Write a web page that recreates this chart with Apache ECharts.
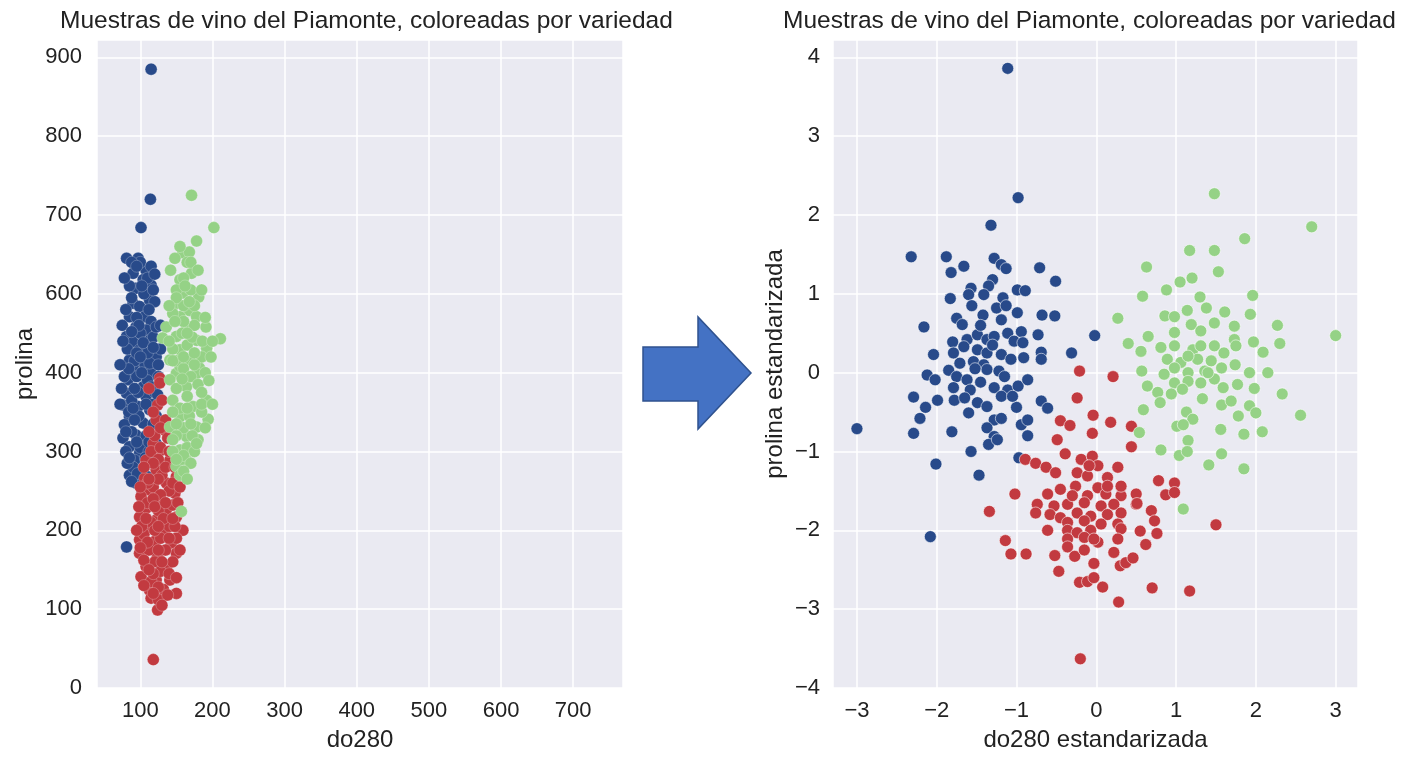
<!DOCTYPE html>
<html>
<head>
<meta charset="utf-8">
<script src="https://cdn.jsdelivr.net/npm/echarts@6/dist/echarts.min.js"></script>
<style>
html,body{margin:0;padding:0;background:#fff;}
#chart{width:1408px;height:768px;}
</style>
</head>
<body>
<div id="chart"></div>
<script>
// ---- tick labels ----
const leftYTickLabels = ['0','100','200','300','400','600','700','800','900'];

// ---- left panel: raw values [do280, prolina position] ----
const leftBlue = [
[115,785],[114,620],[101,584],
[81,545],[97,545],[108,530],[90,526],[104,518],[115,511],[94,507],[108,501],[90,488],[113,492],[99,484],[85,471],[106,471],[115,465],[94,458],[81,446],[108,454],[90,439],[113,441],[99,429],[122,420],[85,416],[106,410],[90,399],[115,399],
[90,408],[113,412],[83,391],[104,382],[81,374],[108,370],[76,359],[97,357],[113,353],[85,344],[104,336],[78,334],[115,327],[94,321],[76,317],[106,310],[85,306],[99,298],[92,289],[85,270],[94,260],[81,179],
[100,540],[110,520],[85,510],[120,490],[95,470],[75,460],[118,445],[100,450],[82,430],[110,425],[125,410],[95,395],[110,390],[120,375],[88,365],[98,345],[122,345],[108,320],[88,325],[100,305],[112,300],[80,300],[90,280],[105,280],[100,265],[118,360],[78,395],[128,430],[92,415],[105,500],[88,540],[115,535],[72,360],[115,290],[82,285],[97,375],
[78,520],[95,535],[120,525],[102,510],[88,495],[112,480],[80,480],[98,460],[122,458],[88,452],[104,438],[76,440],[118,432],[95,425],[84,405],[102,400],[125,395],[74,380],[92,380],[115,382],[84,350],[108,360],[118,335],[92,340],[80,325],[112,312],[95,312],[122,310],[85,292],[107,292],[96,272],[110,268],[88,262],[102,252],[124,372],[128,460],[118,505],[72,410],[100,420],[90,355]
];
const leftRed = [
[127,393],[127,387],[124,359],[122,340],[134,327],[118,310],[138,317],[129,302],[108,289],[141,289],[122,277],[150,268],[106,266],[136,260],[113,251],[101,243],[148,247],[127,239],[108,228],[136,226],[150,217],[99,217],[122,213],[159,200],[108,203],[131,198],[99,188],[120,186],[143,184],[150,171],[99,171],[124,167],[108,154],[136,152],[101,141],[122,137],[141,137],[113,124],[150,120],[131,116],[115,114],[124,99],[118,36],
[115,300],[125,290],[130,270],[118,255],[140,250],[110,235],[125,225],[145,232],[115,210],[138,208],[105,195],[128,190],[150,190],[112,175],[135,175],[120,160],[145,160],[105,162],[128,148],[115,135],[132,125],[140,205],[110,260],[128,245],[145,260],[120,200],[102,205],[118,145],[125,128],[135,280],[120,320],[128,305],[118,285],
[112,380],[130,365],[118,350],[135,340],[112,325],[140,300],[105,280],[148,280],[125,265],[100,255],[152,235],[118,240],[132,215],[108,215],[148,205],[125,205],[95,200],[110,185],[140,190],[155,175],[125,175],[100,178],[130,160],[112,150],[140,145],[150,140],[105,130],[125,112],[138,118],[118,120],[130,105],[145,215],[155,255],[98,230],[120,230],[135,235],[112,265],[128,330]
];
const leftGreen = [
[171,625],[202,584],[178,567],[159,552],[168,553],[142,530],[171,526],[155,518],[159,501],[181,496],[150,488],[168,479],[155,471],[178,471],[136,458],[191,458],[164,454],[131,444],[150,446],[178,441],[211,443],[192,431],[155,429],[141,416],[168,416],[182,406],[150,399],
[155,408],[178,399],[141,391],[164,382],[192,365],[145,365],[173,357],[194,341],[155,344],[178,331],[141,331],[164,319],[180,315],[155,302],[164,289],[150,281],[157,224],
[160,520],[150,505],[170,505],[160,485],[145,475],[175,460],[160,465],[145,430],[165,435],[185,420],[150,415],[160,405],[170,395],[180,385],[150,380],[165,370],[185,375],[155,355],[168,345],[185,350],[160,330],[150,320],[172,320],[165,305],[145,300],[158,290],[155,270],[175,300],[190,400],[140,440],[165,540],[175,485],
[155,560],[170,540],[148,545],[180,530],[162,510],[185,505],[150,495],[168,490],[140,485],[190,470],[158,450],[172,445],[186,440],[145,415],[198,420],[160,420],[175,410],[195,390],[158,392],[185,360],[145,350],[200,360],[165,355],[150,335],[190,330],[170,335],[145,315],[178,310],[160,295],[150,290],[170,285],[160,275],[165,265],[148,465],[200,440],[175,425],[165,450]
];

// ---- right panel: standardized values [do280 z, prolina z] ----
const rightBlue = [
[-1.11,3.86],[-0.98,2.22],[-1.32,1.87],[-2.32,1.47],[-1.88,1.47],[-1.82,1.27],[-1.66,1.35],[-1.28,1.45],[-1.19,1.37],[-1.13,1.32],[-0.71,1.33],[-0.51,1.16],[-1.30,1.18],[-1.35,1.10],[-1.41,0.99],[-1.57,1.07],[-1.60,0.99],[-1.83,0.94],[-1.56,0.85],[-1.17,0.95],[-0.99,1.05],[-0.89,1.04],[-1.42,0.73],[-1.25,0.82],[-0.99,0.76],[-0.68,0.73],[-0.52,0.72],[-1.75,0.69],[-1.68,0.61],[-1.19,0.67],[-2.16,0.58],[-0.94,0.52],[-0.73,0.48],[-0.02,0.47],[-1.80,0.39],[-1.62,0.42],[-1.49,0.48],[-1.37,0.42],[-1.28,0.46],[-1.11,0.50],[-1.03,0.40],[-0.92,0.38],[-2.04,0.23],[-1.79,0.25],[-1.66,0.33],[-1.49,0.29],[-1.37,0.25],[-1.19,0.23],[-1.07,0.17],[-0.91,0.19],[-0.69,0.26],[-0.69,0.17],[-0.31,0.25],[-1.71,0.12],[-1.54,0.14],[-1.41,0.10],[-1.85,0.03],[-1.75,-0.05],[-1.62,-0.09],[-1.37,0.04],[-1.22,0.02],[-2.12,-0.03],[-2.02,-0.09],[-1.79,-0.19],[-1.58,-0.22],[-1.28,-0.19],[-1.11,-0.22],[-0.98,-0.17],[-0.86,-0.09],[-2.29,-0.31],[-1.99,-0.35],[-1.78,-0.35],[-1.49,-0.38],[-1.37,-0.43],[-1.19,-0.30],[-1.00,-0.44],[-0.69,-0.36],[-0.61,-0.45],[-2.14,-0.44],[-2.21,-0.58],[-1.60,-0.51],[-1.28,-0.60],[-1.19,-0.58],[-0.94,-0.66],[-0.86,-0.60],[-3.00,-0.71],[-2.29,-0.77],[-1.81,-0.75],[-1.37,-0.70],[-1.28,-0.81],[-0.86,-0.80],[-1.57,-1.00],[-1.35,-0.91],[-1.24,-0.85],[-2.01,-1.16],[-1.47,-1.30],[-0.97,-1.08],[-2.08,-2.08],
[-1.45,0.60],[-1.30,0.35],[-1.52,0.05],[-1.15,-0.05],[-1.45,-0.12],[-1.05,-0.30],[-1.65,-0.32],[-1.13,0.85]
];
const rightRed = [
[-0.21,0.02],[0.21,-0.05],[-0.24,-0.32],[-0.04,-0.54],[0.18,-0.63],[0.44,-0.68],[-0.45,-0.61],[-0.33,-0.67],[-0.05,-0.77],[-0.49,-0.85],[0.44,-0.94],[-0.39,-1.03],
[-0.89,-1.10],[-0.76,-1.15],[-0.63,-1.20],[-0.51,-1.27],[-1.02,-1.54],[-1.34,-1.76],
[-0.19,-1.10],[-0.05,-1.06],[0.02,-1.18],[0.27,-1.20],[-0.24,-1.27],[-0.11,-1.31],[0.14,-1.33],[-0.26,-1.44],[0.02,-1.46],[-0.45,-1.48],[-0.61,-1.54],[-0.11,-1.56],[0.12,-1.54],[0.31,-1.56],[0.50,-1.54],[-0.74,-1.67],[-0.53,-1.69],[-0.36,-1.67],[-0.15,-1.65],[0.06,-1.69],[0.22,-1.67],[0.50,-1.67],[0.69,-1.75],[-0.76,-1.78],[-0.58,-1.80],[-0.45,-1.84],[-0.24,-1.78],[-0.07,-1.82],[0.14,-1.80],[0.31,-1.78],[-0.36,-1.90],[-0.15,-1.88],[0.06,-1.92],[0.27,-1.92],[0.73,-1.88],[-0.61,-2.00],[-0.36,-2.00],[-0.24,-2.03],[-0.07,-2.00],[0.31,-1.98],[0.55,-2.01],[0.76,-2.04],[-0.36,-2.11],[-0.15,-2.09],[0.02,-2.15],[0.27,-2.11],[0.62,-2.18],[-0.36,-2.21],[0.22,-2.28],[-1.14,-2.13],[-1.07,-2.30],[-0.88,-2.30],[-0.52,-2.32],[-0.27,-2.33],[-0.15,-2.25],[-0.03,-2.42],[-0.47,-2.52],[0.30,-2.45],[0.37,-2.41],[0.46,-2.35],[-0.21,-2.66],[-0.11,-2.65],[-0.03,-2.60],[0.08,-2.72],[0.28,-2.91],[0.70,-2.73],[1.17,-2.77],[-0.20,-3.63],[0.78,-1.37],[0.98,-1.40],[0.87,-1.55],[0.98,-1.52],[1.50,-1.93],[0.51,-1.66],
[-0.09,-1.18],[-0.30,-1.56],[0.14,-1.44],[0.31,-1.44],[-0.03,-2.11]
];
const rightGreen = [
[1.48,2.27],[2.70,1.85],[1.86,1.70],[1.17,1.55],[1.48,1.55],[1.53,1.28],[0.63,1.34],[1.05,1.15],[1.20,1.20],[0.88,1.05],[0.58,0.97],[1.30,0.96],[1.96,0.98],[0.27,0.69],[0.86,0.72],[0.98,0.71],[1.14,0.79],[1.38,0.82],[1.61,0.77],[1.93,0.74],[2.27,0.60],[3.00,0.47],[0.40,0.37],[0.65,0.46],[0.81,0.32],[0.98,0.51],[1.19,0.61],[1.31,0.53],[1.48,0.63],[1.73,0.59],[1.73,0.42],[1.97,0.39],[2.30,0.37],[0.56,0.27],[0.98,0.34],[1.21,0.29],[1.48,0.34],[1.60,0.25],[1.75,0.34],[2.09,0.26],[0.89,0.17],[1.06,0.13],[1.27,0.17],[1.44,0.15],[1.74,0.10],[0.57,0.02],[0.85,-0.02],[0.98,0.06],[1.15,0.00],[1.36,0.02],[1.57,0.06],[1.92,0.00],[2.15,0.00],[0.64,-0.17],[0.98,-0.13],[1.15,-0.11],[1.31,-0.13],[1.48,-0.08],[1.59,-0.19],[1.77,-0.15],[1.98,-0.20],[2.33,-0.27],[0.77,-0.25],[0.80,-0.38],[0.94,-0.27],[1.08,-0.21],[1.33,-0.33],[1.57,-0.41],[1.69,-0.36],[1.92,-0.42],[2.00,-0.51],[1.78,-0.55],[2.56,-0.54],[0.59,-0.47],[1.13,-0.50],[1.21,-0.59],[1.01,-0.68],[1.09,-0.66],[1.56,-0.72],[1.85,-0.78],[2.08,-0.75],[0.54,-0.76],[1.15,-0.86],[0.81,-0.98],[1.04,-1.05],[1.14,-1.00],[1.57,-1.03],[1.41,-1.17],[1.85,-1.22],[1.09,-1.73],
[1.31,0.34],[1.15,0.21],[1.40,0.00]
];

// ---- style ----
const COLORS = { blue: '#284a8a', red: '#c23a40', green: '#95d286' };
const FONT = "'Liberation Sans', Arial, Helvetica, sans-serif";
const TXT = '#222222';
const BG = '#eaeaf2';

const chart = echarts.init(document.getElementById('chart'), null, { renderer: 'canvas' });

function minusFmt(v) {
  if (Math.abs(v - Math.round(v)) > 1e-6) return '';
  const r = Math.round(v);
  return r < 0 ? '\u2212' + Math.abs(r) : String(r);
}
function hundredsFmt(v) {
  if (Math.abs(v / 100 - Math.round(v / 100)) > 1e-6) return '';
  return String(Math.round(v));
}
function leftYFmt(v) {
  const i = v / 100;
  if (Math.abs(i - Math.round(i)) > 1e-6) return '';
  const lbl = leftYTickLabels[Math.round(i)];
  return lbl === undefined ? '' : lbl;
}

const axisCommon = {
  axisLine: { show: false },
  axisTick: { show: false },
  splitLine: { show: true, lineStyle: { color: '#ffffff', width: 1.5 } },
  axisLabel: { color: TXT, fontSize: 22, fontFamily: FONT },
  nameTextStyle: { color: TXT, fontSize: 24, fontFamily: FONT },
  nameLocation: 'middle'
};

function scatter(name, data, color, xi, bw) {
  return {
    type: 'scatter', name, data, xAxisIndex: xi, yAxisIndex: xi,
    symbolSize: 12,
    itemStyle: { color, borderColor: 'rgba(255,255,255,0.8)', borderWidth: bw, opacity: 1 },
    emphasis: { disabled: true },
    silent: true
  };
}

const option = {
  animation: false,
  backgroundColor: '#ffffff',
  title: [
    { text: 'Muestras de vino del Piamonte, coloreadas por variedad', left: 55, top: 4,
      textStyle: { color: TXT, fontSize: 24.5, fontWeight: 'normal', fontFamily: FONT } },
    { text: 'Muestras de vino del Piamonte, coloreadas por variedad', left: 778, top: 4,
      textStyle: { color: TXT, fontSize: 24.5, fontWeight: 'normal', fontFamily: FONT } }
  ],
  grid: [
    { left: 97, top: 40, width: 526, height: 648, show: true, backgroundColor: BG, borderWidth: 0 },
    { left: 833, top: 40, width: 525, height: 648, show: true, backgroundColor: BG, borderWidth: 0 }
  ],
  xAxis: [
    Object.assign({}, axisCommon, { gridIndex: 0, type: 'value', min: 40, max: 769, splitNumber: 7,
      name: 'do280', nameGap: 40,
      axisLabel: Object.assign({}, axisCommon.axisLabel, { margin: 12, formatter: hundredsFmt }) }),
    Object.assign({}, axisCommon, { gridIndex: 1, type: 'value', min: -3.3, max: 3.28, splitNumber: 6,
      name: 'do280 estandarizada', nameGap: 40,
      axisLabel: Object.assign({}, axisCommon.axisLabel, { margin: 12, formatter: minusFmt }) })
  ],
  yAxis: [
    Object.assign({}, axisCommon, { gridIndex: 0, type: 'value', min: 0, max: 822, interval: 100,
      name: 'prolina', nameGap: 60, nameRotate: 90,
      axisLabel: Object.assign({}, axisCommon.axisLabel, { margin: 15, formatter: leftYFmt }) }),
    Object.assign({}, axisCommon, { gridIndex: 1, type: 'value', min: -4, max: 4.22, interval: 1,
      name: 'prolina estandarizada', nameGap: 46, nameRotate: 90,
      axisLabel: Object.assign({}, axisCommon.axisLabel, { margin: 13, formatter: minusFmt }) })
  ],
  graphic: [
    { type: 'polygon', silent: true,
      shape: { points: [[643,347],[698,347],[698,317],[751,373],[698,429],[698,401],[643,401]] },
      style: { fill: '#4472c4', stroke: '#2f528f', lineWidth: 1.5 } }
  ],
  series: [
    scatter('clase 1', leftBlue, COLORS.blue, 0, 0.3),
    scatter('clase 2', leftRed, COLORS.red, 0, 0.3),
    scatter('clase 3', leftGreen, COLORS.green, 0, 0.3),
    scatter('clase 1 std', rightBlue, COLORS.blue, 1, 0.7),
    scatter('clase 2 std', rightRed, COLORS.red, 1, 0.7),
    scatter('clase 3 std', rightGreen, COLORS.green, 1, 0.7)
  ]
};
chart.setOption(option);
</script>
</body>
</html>
